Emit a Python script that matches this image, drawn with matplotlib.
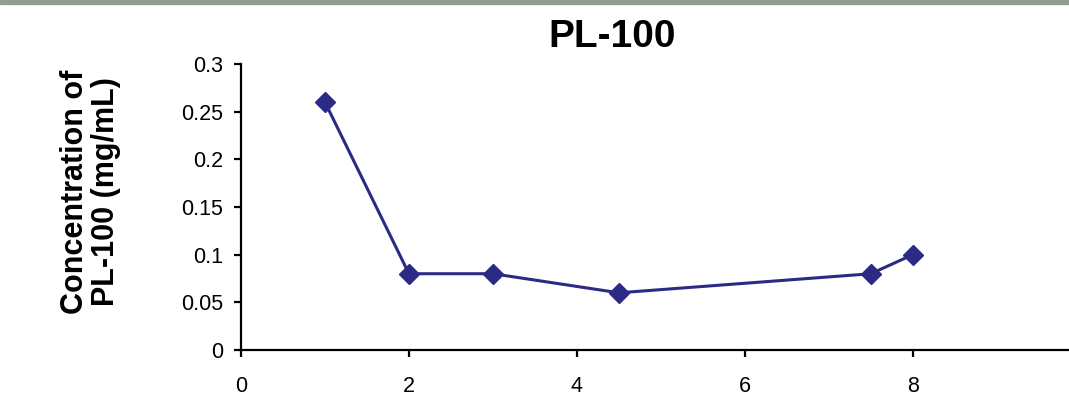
import matplotlib.pyplot as plt
from matplotlib.patches import Rectangle

# sampling times and measured PL-100 concentration
times = [1, 2, 3, 4.5, 7.5, 8]
conc = [0.26, 0.08, 0.08, 0.06, 0.08, 0.10]

x_ticks = [0, 2, 4, 6, 8]
y_ticks = [0, 0.05, 0.1, 0.15, 0.2, 0.25, 0.3]
y_labels = ['0', '0.05', '0.1', '0.15', '0.2', '0.25', '0.3']

plt.rcParams['font.family'] = ['Liberation Sans', 'DejaVu Sans']

fig = plt.figure(figsize=(10.69, 3.97), dpi=100)
ax = fig.add_axes([241 / 1069, 1 - 350 / 397, 1 - 241 / 1069, 286 / 397])

ax.plot(times, conc, color='#2b2a85', lw=2.2, marker='D', ms=10,
        markeredgecolor='#2b2a85', clip_on=False)

ax.set_xlim(0, 9.86)
ax.set_ylim(0, 0.3)
ax.set_xticks(x_ticks)
ax.set_yticks(y_ticks)
ax.set_yticklabels(y_labels)

for side in ('top', 'right'):
    ax.spines[side].set_visible(False)
for side in ('left', 'bottom'):
    ax.spines[side].set_linewidth(1.6)
ax.tick_params(axis='both', direction='out', length=5, width=1.6, labelsize=15.5)
ax.tick_params(axis='x', pad=14)
ax.tick_params(axis='y', pad=8)

fig.text(0.573, 0.908, 'PL-100', ha='center', va='center',
         fontsize=28, fontweight='bold')
fig.text(0.085, 0.518, 'Concentration of\nPL-100 (mg/mL)', ha='center', va='center',
         rotation=90, fontsize=22, fontweight='bold', linespacing=1.05)

# thin band along the top edge
fig.patches.append(Rectangle((0, 1 - 4 / 397), 1, 4 / 397, transform=fig.transFigure,
                             color='#8fa093', zorder=0))

fig.savefig('out.png', dpi=100)
